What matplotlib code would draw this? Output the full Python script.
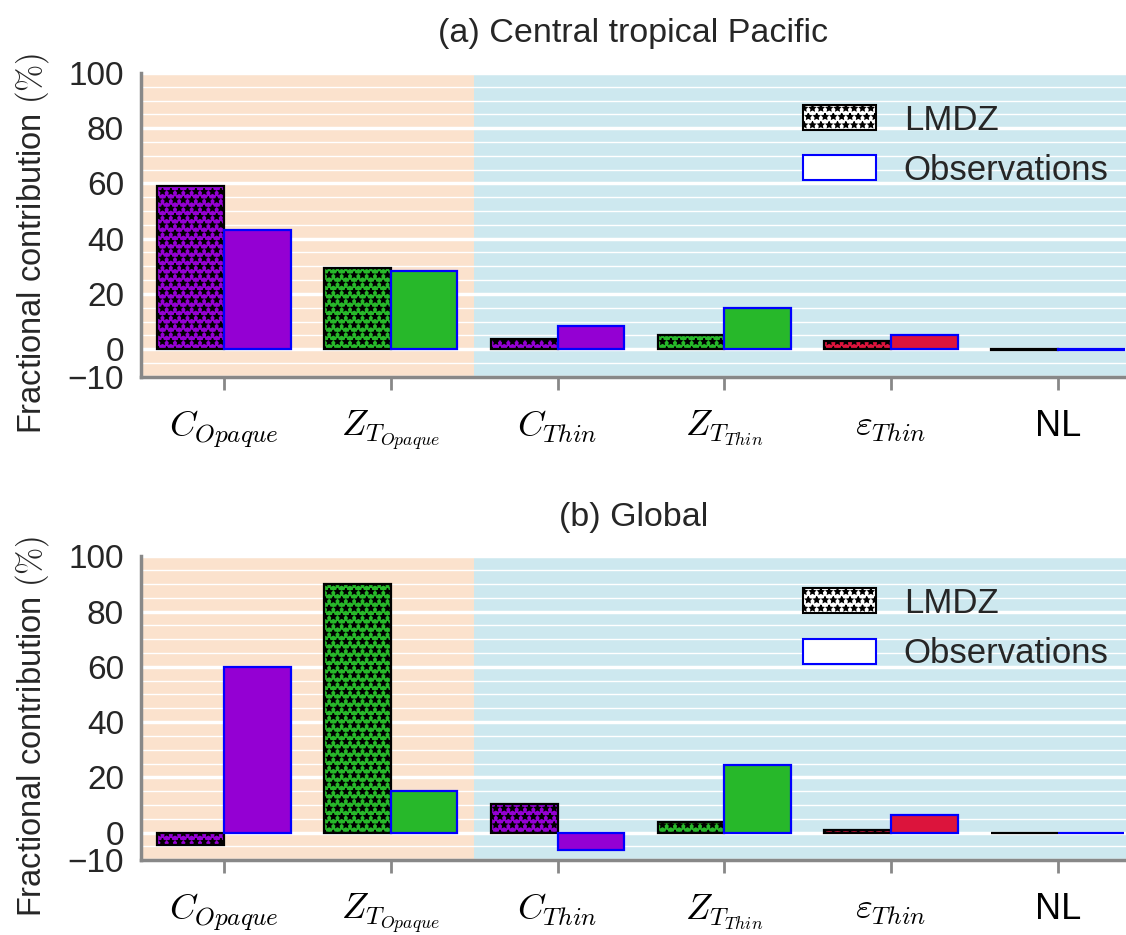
import numpy as np
import matplotlib
matplotlib.use('Agg')
from matplotlib import pyplot as plt
from matplotlib.patches import Patch

plt.rcParams['font.family'] = ['Liberation Sans', 'DejaVu Sans']
plt.rcParams['mathtext.fontset'] = 'cm'
plt.rcParams['hatch.linewidth'] = 1.0

#------DATA-----
categories = [r'$C_{Opaque}$', r'$Z_{T_{Opaque}}$', r'$C_{Thin}$',
              r'$Z_{T_{Thin}}$', r'$\varepsilon_{Thin}$', 'NL']
bar_colors = ['#9400d3', '#27b82a', '#9400d3', '#27b82a', '#dc143c', '#9400d3']

lmdz_tropics = [59.0, 29.5, 3.6, 5.2, 2.9, -0.3]
obs_tropics = [43.0, 28.4, 8.4, 14.9, 5.2, -0.2]

lmdz_global = [-4.6, 90.1, 10.4, 3.9, 1.1, -0.3]
obs_global = [60.1, 15.2, -6.2, 24.6, 6.4, -0.2]

titles = ['(a) Central tropical Pacific', '(b) Global']
yticks = [-10, 0, 20, 40, 60, 80, 100]

#------PLOT-----
fig = plt.figure(figsize=(11.26, 9.35), dpi=100)
ax1 = fig.add_axes([0.125, 0.597, 0.875, 0.325])
ax2 = fig.add_axes([0.125, 0.080, 0.875, 0.325])

x = np.arange(len(categories))
width = 0.4

for ax, lmdz, obs, title in [(ax1, lmdz_tropics, obs_tropics, titles[0]),
                             (ax2, lmdz_global, obs_global, titles[1])]:
    ax.set_xlim(-0.5, 5.41)
    ax.set_ylim(-10, 100)
    ax.axvspan(-0.5, 1.5, color='#fbe2cd', zorder=0, lw=0)
    ax.axvspan(1.5, 5.41, color='#cde8ef', zorder=0, lw=0)

    ax.bar(x - width, lmdz, width, align='edge', color=bar_colors,
           edgecolor='black', linewidth=1.6, hatch='**', zorder=2)
    ax.bar(x, obs, width, align='edge', color=bar_colors,
           edgecolor='blue', linewidth=1.6, zorder=2)

    ax.set_axisbelow(True)
    ax.set_yticks(yticks)
    ax.set_yticks(np.arange(-10, 101, 5), minor=True)
    ax.yaxis.grid(True, which='major', color='white', linewidth=2.5)
    ax.yaxis.grid(True, which='minor', color='white', linewidth=1.0)
    ax.tick_params(axis='y', which='both', length=0, labelsize=24, pad=12)

    ax.set_xticks(x)
    ax.set_xticklabels(categories, fontsize=26)
    ax.tick_params(axis='x', length=9, width=2, color='#888888', pad=14)

    for side in ['top', 'right']:
        ax.spines[side].set_visible(False)
    for side in ['left', 'bottom']:
        ax.spines[side].set_color('#888888')
        ax.spines[side].set_linewidth(2.5)

    ax.set_title(title, fontsize=24.5, color='#262626', pad=22)
    ax.set_ylabel(r'Fractional contribution $(\%)$', fontsize=23.5, color='#262626')
    ax.yaxis.set_label_coords(-0.091, 0.44)

    handles = [Patch(facecolor='white', edgecolor='black', hatch='**', linewidth=1.5, label='LMDZ'),
               Patch(facecolor='white', edgecolor='blue', linewidth=1.5, label='Observations')]
    leg = ax.legend(handles=handles, loc='upper left', bbox_to_anchor=(0.658, 0.945),
                    frameon=False, fontsize=25, handlelength=2.1, handleheight=0.72,
                    handletextpad=0.8, labelspacing=0.5, borderaxespad=0)
    for t in leg.get_texts():
        t.set_color('#262626')

for ax in (ax1, ax2):
    for lab in ax.get_yticklabels():
        lab.set_color('#262626')

fig.savefig('out.png', dpi=100)
